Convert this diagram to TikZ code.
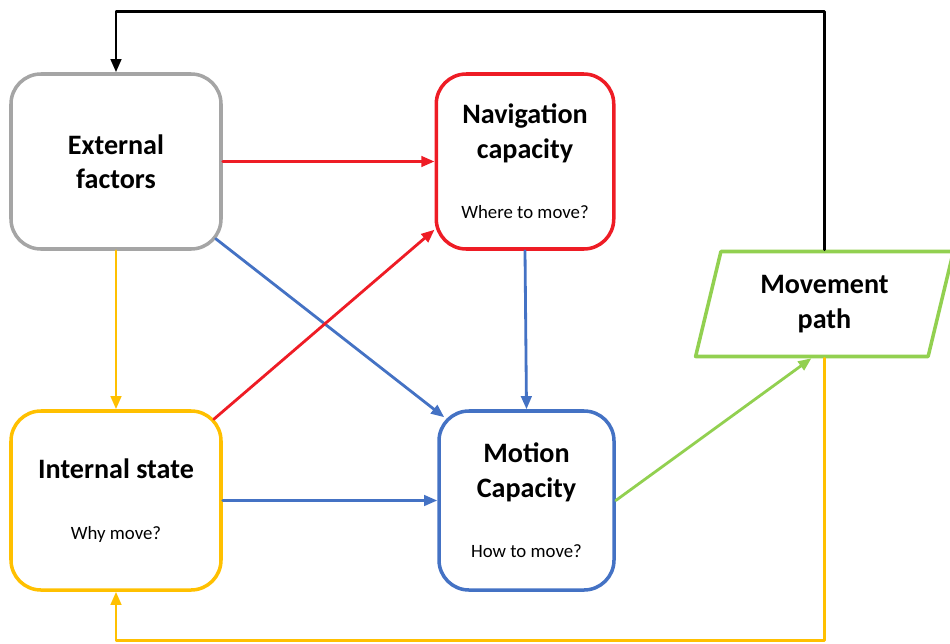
\documentclass[tikz,border=0pt]{standalone}
\usepackage{fontspec}
\setmainfont{Carlito}
\usetikzlibrary{arrows.meta,shapes.geometric,calc}
\definecolor{extgrey}{HTML}{A5A5A5}
\definecolor{navred}{HTML}{EE1C25}
\definecolor{motblue}{HTML}{4472C4}
\definecolor{intyellow}{HTML}{FFC000}
\definecolor{pathgreen}{HTML}{92D050}
\newcommand{\question}[1]{{\mdseries\fontsize{10.7}{19.5}\selectfont #1}}
\begin{document}
\begin{tikzpicture}[line cap=round,line join=round,>={Triangle[length=7.5pt,width=6pt]},
	box/.style={draw,rounded corners=0.6cm,line width=2pt,align=center,
		font=\bfseries\fontsize{16}{19.5}\selectfont},
	link/.style={->,line width=1.6pt}]
	\useasboundingbox (0,0) rectangle (19,12.86);
	\node[box,draw=extgrey,minimum width=4.2cm,minimum height=3.5cm] (ext) at (2.32,9.63) {External\\factors};
	\node[box,draw=navred,minimum width=3.55cm,minimum height=3.5cm] (nav) at (10.5,9.63) {Navigation\\capacity\\[15pt]\question{Where to move?}};
	\node[box,draw=intyellow,minimum width=4.2cm,minimum height=3.58cm] (int) at (2.32,2.85) {Internal state\\[15pt]\question{Why move?}};
	\node[box,draw=motblue,minimum width=3.5cm,minimum height=3.58cm] (mot) at (10.53,2.85) {Motion\\Capacity\\[15pt]\question{How to move?}};
	\node[draw=pathgreen,line width=2pt,trapezium,trapezium left angle=76,trapezium right angle=104,
		trapezium stretches=true,minimum width=5.2cm,minimum height=2.1cm,align=center,
		font=\bfseries\fontsize{16}{19.5}\selectfont] (move) at (16.49,6.78) {Movement\\path};
	% links between the boxes
	\draw[link,navred] (ext.east) -- (nav.west);
	\draw[link,intyellow] (ext.south) -- (int.north);
	\draw[link,motblue] ($(ext.south east)+(-.14,.24)$) -- ($(mot.north west)+(.14,-.16)$);
	\draw[link,navred] ($(int.north east)+(-.18,-.2)$) -- (nav.217);
	\draw[link,motblue] (int.east) -- (mot.west);
	\draw[link,motblue] (nav.south) -- (mot.north);
	\draw[link,pathgreen] (mot.east) -- (move.bottom side);
	% feedback loops
	\draw[link,black] (move.north) -- ++(0,4.76) -| (ext.north);
	\draw[link,intyellow] (move.south) -- ++(0,-5.64) -| (int.south);
\end{tikzpicture}
\end{document}
